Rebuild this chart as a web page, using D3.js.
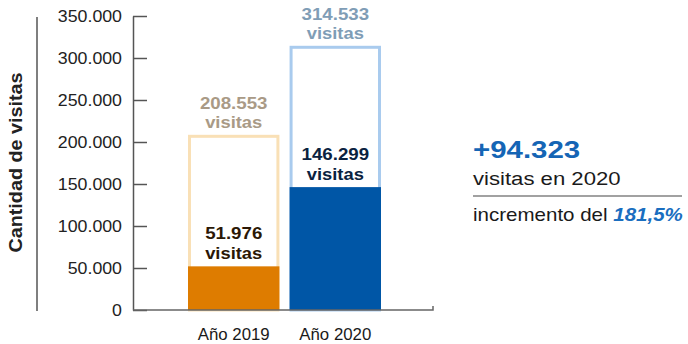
<!DOCTYPE html>
<html>
<head>
<meta charset="utf-8">
<script src="https://cdn.jsdelivr.net/npm/d3@7"></script>
<style>
  html, body { margin: 0; padding: 0; background: #fff; }
  svg { display: block; font-family: "Liberation Sans", Arial, Helvetica, sans-serif; }
</style>
</head>
<body>
<svg id="chart" width="688" height="344"></svg>
<script>
const categories = ["Año 2019", "Año 2020"];
const totalVisits = [208553, 314533];
const highlightVisits = [51976, 146299];
const totalLabels = ["208.553", "314.533"];
const highlightLabels = ["51.976", "146.299"];
const yTicks = [0, 50000, 100000, 150000, 200000, 250000, 300000, 350000];
const yTickLabels = ["0", "50.000", "100.000", "150.000", "200.000", "250.000", "300.000", "350.000"];
const increaseLabel = "+94.323";
const increaseText = "visitas en 2020";
const pctPrefix = "incremento del ";
const pctLabel = "181,5%";

const fillColors = ["#de7c00", "#0056a6"];
const outlineColors = ["#f9e0b6", "#a9cbee"];
const totalTextColors = ["#a99a86", "#7f9db6"];
const innerTextColors = ["#2b1806", "#0a2240"];

const svg = d3.select("#chart");

const y = d3.scaleLinear().domain([0, 350000]).range([310, 16]);
const x = d3.scaleBand().domain(categories).range([188, 381]).paddingInner(0.1);

function txt(sel, px, py, str, size, weight, color, anchor, sx, rot) {
  const t = sel.append("text")
    .attr("transform", `translate(${px},${py})` + (rot ? ` rotate(${rot})` : "") + ` scale(${sx},1)`)
    .attr("text-anchor", anchor)
    .attr("font-size", size)
    .attr("font-weight", weight)
    .attr("fill", color)
    .text(str);
  return t;
}

// y axis
const yAxis = d3.axisLeft(y)
  .tickValues(yTicks)
  .tickFormat((d, i) => yTickLabels[i])
  .tickSize(-14)
  .tickSizeOuter(0)
  .tickPadding(11);
const gy = svg.append("g").attr("transform", "translate(133,0)").call(yAxis);
gy.select(".domain").attr("stroke", "#555").attr("stroke-width", 1.5);
gy.selectAll(".tick line").attr("stroke", "#555").attr("stroke-width", 1.5);
gy.selectAll(".tick text").remove();
yTicks.forEach((v, i) => {
  txt(svg, 122, y(v) + 6, yTickLabels[i], 16, "normal", "#222", "end", 1.11);
});

// bars: outlines of totals and highlighted fills
const bars = svg.append("g");
categories.forEach((c, i) => {
  const bx = x(c), bw = x.bandwidth();
  bars.append("rect")
    .attr("x", bx + 1.5)
    .attr("y", y(totalVisits[i]) + 1.5)
    .attr("width", bw - 3)
    .attr("height", y(0) - y(totalVisits[i]) - 1.5)
    .attr("fill", "#fff")
    .attr("stroke", outlineColors[i])
    .attr("stroke-width", 3);
  bars.append("rect")
    .attr("x", bx)
    .attr("y", y(highlightVisits[i]))
    .attr("width", bw)
    .attr("height", y(0) - y(highlightVisits[i]))
    .attr("fill", fillColors[i]);

  const cx = bx + bw / 2;
  txt(svg, cx, y(totalVisits[i]) - 26, totalLabels[i], 17, "bold", totalTextColors[i], "middle", 1.1);
  txt(svg, cx, y(totalVisits[i]) - 6.6, "visitas", 17, "bold", totalTextColors[i], "middle", 1.08);
  txt(svg, cx, y(highlightVisits[i]) - 27, highlightLabels[i], 17, "bold", innerTextColors[i], "middle", 1.1);
  txt(svg, cx, y(highlightVisits[i]) - 7.6, "visitas", 17, "bold", innerTextColors[i], "middle", 1.08);
});

// x axis
const xAxis = d3.axisBottom(x).tickSize(0).tickSizeOuter(0);
const gx = svg.append("g").attr("transform", "translate(0,310)").call(xAxis);
gx.select(".domain").remove();
gx.selectAll(".tick text").remove();
svg.append("path")
  .attr("d", `M133,${y(0)}H433V${y(0) - 4}`)
  .attr("fill", "none")
  .attr("stroke", "#666")
  .attr("stroke-width", 1.5);
categories.forEach(c => {
  txt(svg, x(c) + x.bandwidth() / 2, 340, c, 16.5, "normal", "#1a1a1a", "middle", 1.02);
});

// y title
txt(svg, 22, 162.5, "Cantidad de visitas", 17.5, "bold", "#222", "middle", 1.13, -90);
svg.append("line")
  .attr("x1", 37).attr("x2", 37).attr("y1", 17).attr("y2", 311)
  .attr("stroke", "#555").attr("stroke-width", 1.5);

// annotation
txt(svg, 473, 158, increaseLabel, 23, "bold", "#1565b5", "start", 1.28);
txt(svg, 473, 185, increaseText, 18, "normal", "#1a1a1a", "start", 1.23);
svg.append("line")
  .attr("x1", 473).attr("x2", 682).attr("y1", 196).attr("y2", 196)
  .attr("stroke", "#444").attr("stroke-width", 1.2);
const inc = txt(svg, 473, 221, "", 18, "normal", "#1a1a1a", "start", 1.14);
inc.append("tspan").text(pctPrefix);
inc.append("tspan").attr("font-weight", "bold").attr("font-style", "italic").attr("fill", "#1a6ec0").text(pctLabel);
</script>
</body>
</html>
